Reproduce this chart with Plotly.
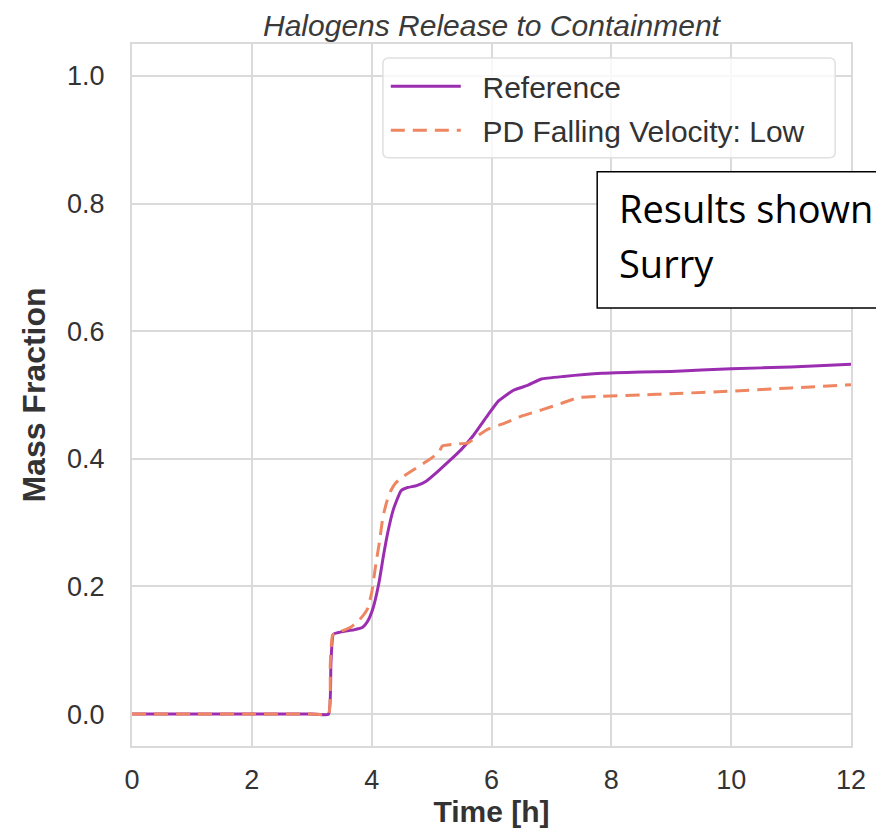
import plotly.graph_objects as go

# Reference series
ref_t = [0.0, 1.0, 2.0, 3.0, 3.28, 3.32, 3.36, 3.5, 3.7, 3.85, 3.93, 4.02, 4.12, 4.2, 4.27, 4.36, 4.49, 4.6, 4.75, 4.91, 5.1, 5.3, 5.49, 5.7, 5.95, 6.11, 6.25, 6.38, 6.6, 6.83, 7.2, 7.84, 8.5, 9.0, 10.0, 11.0, 12.0]
ref_y = [0.0, 0.0, 0.0, 0.0, 0.0, 0.08, 0.125, 0.129, 0.132, 0.136, 0.145, 0.165, 0.205, 0.25, 0.285, 0.32, 0.35, 0.355, 0.358, 0.365, 0.38, 0.397, 0.414, 0.437, 0.47, 0.49, 0.5, 0.508, 0.515, 0.525, 0.529, 0.534, 0.536, 0.537, 0.541, 0.544, 0.548]

# PD Falling Velocity: Low series
low_t = [0.0, 1.0, 2.0, 3.0, 3.28, 3.31, 3.35, 3.5, 3.65, 3.8, 3.93, 4.0, 4.07, 4.13, 4.19, 4.26, 4.32, 4.4, 4.49, 4.7, 4.95, 5.12, 5.18, 5.4, 5.61, 5.8, 5.95, 6.2, 6.5, 6.85, 7.17, 7.45, 7.84, 8.5, 9.0, 10.0, 11.0, 12.0]
low_y = [0.0, 0.0, 0.0, 0.0, 0.0, 0.08, 0.124, 0.13, 0.136, 0.148, 0.165, 0.19, 0.235, 0.27, 0.31, 0.335, 0.35, 0.362, 0.37, 0.383, 0.398, 0.41, 0.42, 0.423, 0.425, 0.438, 0.447, 0.455, 0.467, 0.477, 0.487, 0.496, 0.498, 0.5, 0.502, 0.506, 0.511, 0.516]

x_ticks = [0, 2, 4, 6, 8, 10, 12]
y_ticks = [0.0, 0.2, 0.4, 0.6, 0.8, 1.0]

series_names = ["Reference", "PD Falling Velocity: Low"]
series_colors = ["#9B2DB0", "#EE8662"]

font_family = "Liberation Sans, Arial, sans-serif"
grid_color = "#dadada"
text_color = "#333333"
pad = "\u00a0\u00a0"

fig = go.Figure()
fig.add_trace(go.Scatter(x=ref_t, y=ref_y, mode="lines", name=pad + series_names[0], legendgroup="a",
                         line=dict(color=series_colors[0], width=3, shape="spline", smoothing=0.4)))
fig.add_trace(go.Scatter(x=low_t, y=low_y, mode="lines", name=pad + series_names[1], legendgroup="b",
                         line=dict(color=series_colors[1], width=3, dash="14px,8px", shape="spline", smoothing=0.4)))

fig.update_layout(
    width=876, height=827,
    margin=dict(l=124, r=33, t=36, b=89),
    paper_bgcolor="white", plot_bgcolor="white",
    font=dict(family=font_family, color=text_color, size=27),
    title=dict(text="<i>Halogens Release to Containment</i>", x=0.5, xref="paper", xanchor="center",
               y=0.9794, yref="container", yanchor="middle",
               font=dict(size=30, color="#3a3a3a")),
    showlegend=True,
    legend=dict(x=0.353, y=0.977, xanchor="left", yanchor="top",
                bgcolor="rgba(0,0,0,0)", borderwidth=0,
                font=dict(size=30, color=text_color), itemwidth=70,
                tracegroupgap=2),
)

fig.update_xaxes(
    range=[0, 12], tickvals=x_ticks, ticktext=[str(v) for v in x_ticks],
    showgrid=True, gridcolor=grid_color, gridwidth=2,
    showline=True, linecolor=grid_color, linewidth=2, mirror=True,
    zeroline=False, ticks="outside", ticklen=9, tickcolor="rgba(0,0,0,0)",
    tickfont=dict(size=27, color=text_color), automargin=False,
    title=dict(text="<b>Time [h]</b>", font=dict(size=30, color=text_color), standoff=3),
)
fig.update_yaxes(
    range=[-0.05, 1.05], tickvals=y_ticks, ticktext=[f"{v:.1f}" for v in y_ticks],
    showgrid=True, gridcolor=grid_color, gridwidth=2,
    showline=True, linecolor=grid_color, linewidth=2, mirror=True,
    zeroline=False, ticks="outside", ticklen=20, tickcolor="rgba(0,0,0,0)",
    tickfont=dict(size=27, color=text_color), automargin=False,
    title=dict(text="<b>Mass Fraction</b>", font=dict(size=32, color=text_color), standoff=12),
)

# legend frame (rounded, semi-transparent like matplotlib)
lx0, lx1, ly0, ly1, rr = 0.349, 0.978, 0.838, 0.980, 0.008
ry = rr * 719 / 702
fig.add_shape(type="path", xref="paper", yref="paper", layer="above",
              path=(f"M {lx0+rr},{ly0} L {lx1-rr},{ly0} Q {lx1},{ly0} {lx1},{ly0+ry} "
                    f"L {lx1},{ly1-ry} Q {lx1},{ly1} {lx1-rr},{ly1} L {lx0+rr},{ly1} "
                    f"Q {lx0},{ly1} {lx0},{ly1-ry} L {lx0},{ly0+ry} Q {lx0},{ly0} {lx0+rr},{ly0} Z"),
              line=dict(color="#e0e0e0", width=1.5), fillcolor="rgba(255,255,255,0.8)")

# overlaid text box
fig.add_shape(type="rect", xref="paper", yref="paper", x0=0.647, x1=1.08, y0=0.624, y1=0.818,
              line=dict(color="black", width=1.5), fillcolor="white", layer="above")
fig.add_annotation(text="Results shown", xref="paper", yref="paper", x=0.674, y=0.766,
                   xanchor="left", yanchor="middle", showarrow=False,
                   font=dict(family="Open Sans, sans-serif", size=38, color="black"))
fig.add_annotation(text="Surry", xref="paper", yref="paper", x=0.674, y=0.688,
                   xanchor="left", yanchor="middle", showarrow=False,
                   font=dict(family="Open Sans, sans-serif", size=38, color="black"))

fig.write_html("out.html")
